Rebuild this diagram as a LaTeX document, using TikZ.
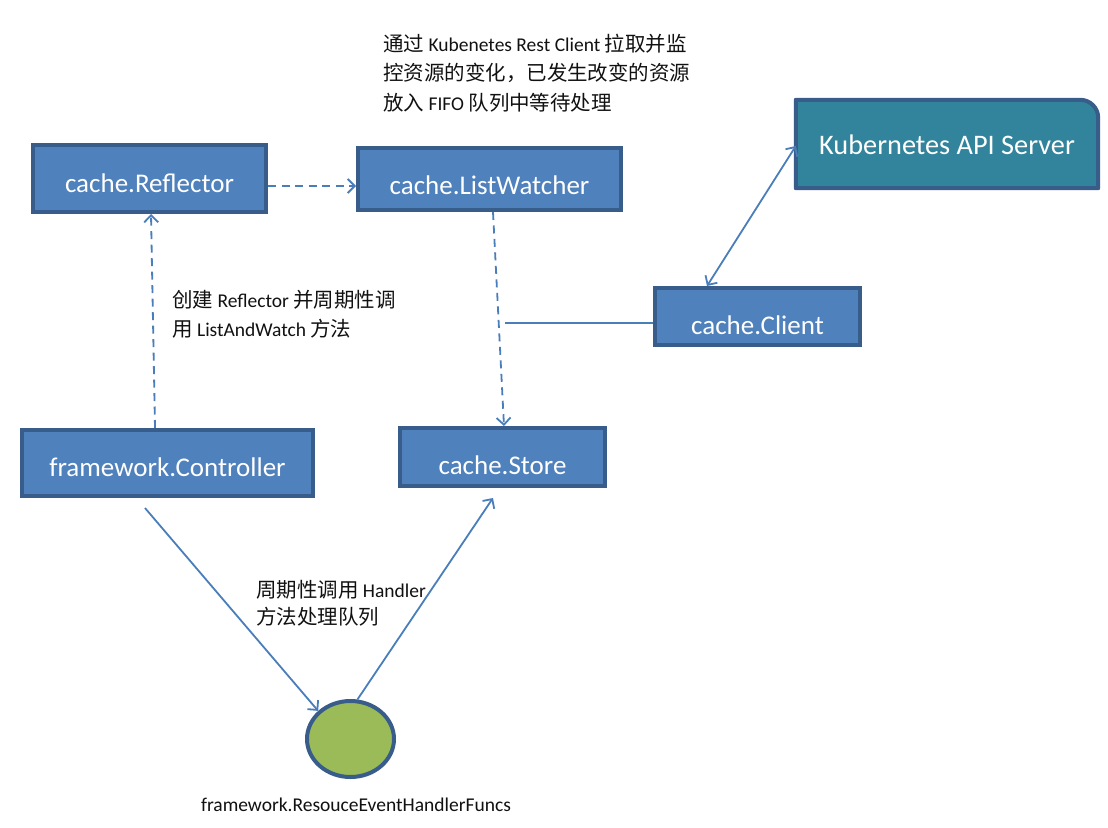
\documentclass[tikz,border=0pt]{standalone}
\usepackage{fontspec}
\setmainfont{Carlito}
\newfontfamily\cjk{Noto Sans CJK SC}[Scale=1.05]
\usetikzlibrary{arrows.meta,shapes.geometric}
\definecolor{boxfill}{HTML}{4F81BD}
\definecolor{boxline}{HTML}{385D8A}
\definecolor{apifill}{HTML}{31849B}
\definecolor{arrowc}{HTML}{4A7EBB}
\definecolor{handfill}{HTML}{9BBB59}
\definecolor{textc}{HTML}{111111}
\begin{document}
\begin{tikzpicture}[x=1pt,y=-1pt,
  box/.style={draw=boxline,fill=boxfill,line width=4pt,inner sep=0pt},
  boxtext/.style={text=white,inner sep=0pt,anchor=base,font=\fontsize{27}{31}\selectfont},
  anno/.style={text=textc,inner sep=0pt,anchor=base west,font=\fontsize{19.5}{24}\selectfont},
  tip/.style={-{Straight Barb[length=7pt,width=14pt]}},
  conn/.style={draw=arrowc,line width=1.8pt},
  dashconn/.style={conn,dash pattern=on 8pt off 5.5pt}]
\useasboundingbox (0,0) rectangle (1108,827);
\fill[white] (0,0) rectangle (1108,827);

% boxes
\node[box,minimum width=233pt,minimum height=67pt] (refl) at (149.5,178.5) {};
\node[boxtext] (reflT) at (149.5,192) {cache.Reflector};
\node[box,minimum width=263pt,minimum height=62pt] (lw) at (489.5,179) {};
\node[boxtext] (lwT) at (489.5,194) {cache.ListWatcher};
\node[box,minimum width=205pt,minimum height=57pt] (client) at (757.5,316.5) {};
\node[boxtext] (clientT) at (757.5,334) {cache.Client};
\node[box,minimum width=291pt,minimum height=66pt] (ctrl) at (167.5,463) {};
\node[boxtext] (ctrlT) at (167.5,476) {framework.Controller};
\node[box,minimum width=205pt,minimum height=58pt] (store) at (502.5,457) {};
\node[boxtext] (storeT) at (502.5,474) {cache.Store};

% API server
\node[inner sep=0pt,minimum width=302pt,minimum height=88pt] (api) at (947,144) {};
\filldraw[fill=apifill,draw=boxline,line width=4pt,line join=round]
  (api.south west) -- (api.north west) -- ([xshift=-18pt]api.north east)
  arc[start angle=90,end angle=0,radius=18pt] -- (api.south east) -- cycle;
\node[boxtext,font=\fontsize{28.3}{32}\selectfont] (apiT) at (947,154) {Kubernetes API Server};

% handler funcs
\node[ellipse,draw=boxline,fill=handfill,line width=4pt,minimum width=87pt,minimum height=76pt,inner sep=0pt] (h) at (350.5,739) {};
\node[text=textc,inner sep=0pt,anchor=base,font=\fontsize{19.5}{24}\selectfont] (hT) at (356,811) {framework.ResouceEventHandlerFuncs};

% annotations
\node[anno] (n1a) at (383,51) {{\cjk 通过} Kubenetes Rest Client {\cjk 拉取并监}};
\node[anno] (n1b) at (383,80) {{\cjk 控资源的变化，已发生改变的资源}};
\node[anno] (n1c) at (383,110) {{\cjk 放入} FIFO {\cjk 队列中等待处理}};
\node[anno] (n2a) at (172,307) {{\cjk 创建} Reflector {\cjk 并周期性调}};
\node[anno] (n2b) at (172,336) {{\cjk 用} ListAndWatch {\cjk 方法}};
\node[anno] (n3a) at (256,597) {{\cjk 周期性调用} Handler};
\node[anno] (n3b) at (256,624) {{\cjk 方法处理队列}};

% connectors
\draw[dashconn,tip] ([yshift=-7.5pt]refl.east) -- ([yshift=-7pt]lw.west);
\draw[dashconn,tip] ([xshift=-12.5pt]ctrl.north) -- ([xshift=1.5pt]refl.south);
\draw[dashconn,tip] ([xshift=3.5pt]lw.south) -- ([xshift=1.5pt]store.north);
\coordinate (tap) at (505,323);
\draw[draw=arrowc,line width=1.3pt] ([yshift=-6.5pt]client.west) -- (tap);
\draw[conn,{Straight Barb[length=7pt,width=14pt]}-{Straight Barb[length=7pt,width=14pt]}] ([xshift=-50.5pt]client.north) -- ([yshift=-2pt]api.west);
\draw[conn,tip] ([xshift=-22.5pt,yshift=-10pt]ctrl.south) -- (h.139);
\draw[conn,tip] (h.80) -- ([xshift=-9.5pt,yshift=-10pt]store.south);
\end{tikzpicture}
\end{document}
